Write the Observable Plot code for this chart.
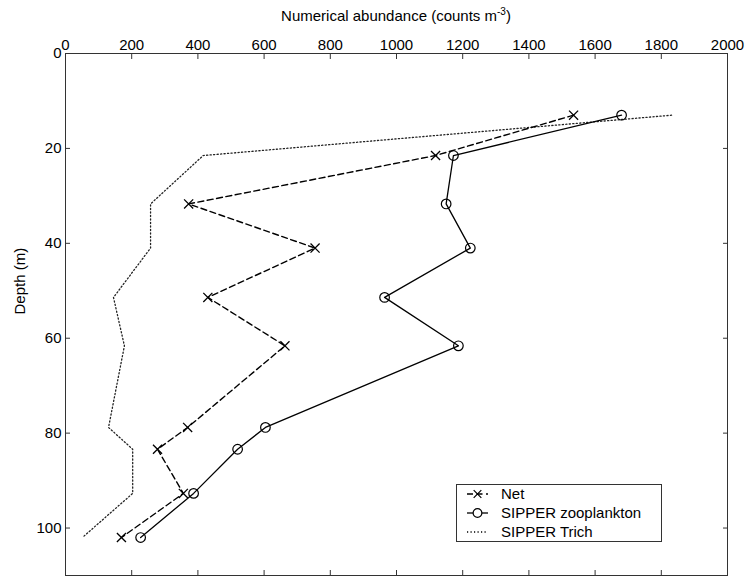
<!DOCTYPE html>
<html>
<head>
<meta charset="utf-8">
<script src="https://cdn.jsdelivr.net/npm/d3@7"></script>
<script src="https://cdn.jsdelivr.net/npm/@observablehq/plot@0.6"></script>
<style>
  html, body { margin: 0; padding: 0; background: #fff; }
  #wrap { position: relative; width: 746px; height: 576px; font-family: "Liberation Sans", Arial, Helvetica, sans-serif; }
  #legend { position: absolute; left: 456px; top: 484px; }
</style>
</head>
<body>
<div id="wrap"><div id="chart"></div><div id="legend"></div></div>
<script>
// Sampling depths (m) shared by all three profiles
const depth = [13, 21.5, 31.7, 41, 51.4, 61.6, 78.8, 83.4, 92.7, 102];
// Numerical abundance (counts m^-3)
const netCounts = [1535, 1118, 372, 754, 430, 663, 369, 278, 356, 169];
const zooCounts = [1680, 1172, 1150, 1223, 964, 1187, 604, 520, 387, 227];
const trichCounts = [1831, 416, 257, 257, 145, 178, 130, 203, 203, 51];

const xTicks = [0, 200, 400, 600, 800, 1000, 1200, 1400, 1600, 1800, 2000];
const yTicks = [0, 20, 40, 60, 80, 100];

const seriesNames = ["Net", "SIPPER zooplankton", "SIPPER Trich"];

const rows = depth.map((d, i) => ({depth: d, net: netCounts[i], zoo: zooCounts[i], trich: trichCounts[i]}));

const FONT = "\"Liberation Sans\", Arial, Helvetica, sans-serif";
const AXIS = "#333";
const plain = d => String(d);

const chart = Plot.plot({
  width: 746,
  height: 576,
  marginLeft: 65,
  marginRight: 19,
  marginTop: 53,
  marginBottom: 1,
  style: {fontFamily: FONT, fontSize: "15px", background: "#fff", color: "#000", overflow: "visible"},
  x: {domain: [0, 2000]},
  y: {domain: [0, 110], reverse: true},
  marks: [
    Plot.frame({stroke: AXIS}),
    // labelled axes (top and left) with inward ticks
    Plot.axisX(xTicks, {anchor: "top", tickSize: -5, tickPadding: 9, tickFormat: plain, label: null, stroke: AXIS, fill: "#000"}),
    Plot.axisY(yTicks, {anchor: "left", tickSize: -5, tickPadding: 9, tickFormat: plain, label: null, stroke: AXIS, fill: "#000"}),
    // mirrored tick marks on the bottom and right edges
    Plot.axisX(xTicks, {anchor: "bottom", tickSize: -5, tickFormat: () => "", label: null, stroke: AXIS}),
    Plot.axisY(yTicks, {anchor: "right", tickSize: -5, tickFormat: () => "", label: null, stroke: AXIS}),
    Plot.text(["Depth (m)"], {frameAnchor: "left", rotate: -90, dx: -45, fontSize: 15, fill: "#000"}),
    // SIPPER Trich: dotted
    Plot.line(rows, {x: "trich", y: "depth", stroke: "#222", strokeWidth: 1.3, strokeDasharray: "1.2,2.3"}),
    // Net: dashed with crosses
    Plot.line(rows, {x: "net", y: "depth", stroke: "#000", strokeWidth: 1.4, strokeDasharray: "6,3.5"}),
    Plot.dot(rows, {x: "net", y: "depth", symbol: "times", r: 4.2, stroke: "#000", strokeWidth: 1.3}),
    // SIPPER zooplankton: solid with open circles
    Plot.line(rows, {x: "zoo", y: "depth", stroke: "#000", strokeWidth: 1.3}),
    Plot.dot(rows, {x: "zoo", y: "depth", symbol: "circle", r: 4.8, stroke: "#000", fill: "none", strokeWidth: 1.2})
  ]
});
document.getElementById("chart").appendChild(chart);

// Title above the top axis, with a superscript exponent
const svg = d3.select(chart);
const xs = chart.scale("x");
const title = svg.append("text")
  .attr("x", (xs.apply(0) + xs.apply(2000)) / 2)
  .attr("y", 21)
  .attr("text-anchor", "middle")
  .attr("font-family", FONT)
  .attr("font-size", 15)
  .attr("fill", "#000");
title.append("tspan").text("Numerical abundance (counts m");
title.append("tspan").attr("font-size", 10).attr("dy", -6).text("-3");
title.append("tspan").attr("dy", 6).text(")");

// Boxed legend
const legendStyles = [
  {dash: "6,3.5", width: 1.4, symbol: d3.symbolTimes},
  {dash: null, width: 1.3, symbol: d3.symbolCircle},
  {dash: "1.2,2.3", width: 1.3, symbol: null}
];
const lw = 206, lh = 58;
const lg = d3.select("#legend").append("svg").attr("width", lw).attr("height", lh)
  .style("font-family", FONT).style("font-size", "15px");
lg.append("rect").attr("x", 0.5).attr("y", 0.5).attr("width", lw - 1).attr("height", lh - 1)
  .attr("fill", "#fff").attr("stroke", AXIS);
seriesNames.forEach((name, i) => {
  const s = legendStyles[i];
  const y = 10 + i * 19;
  const g = lg.append("g");
  g.append("line").attr("x1", 11).attr("x2", 32).attr("y1", y).attr("y2", y)
    .attr("stroke", "#000").attr("stroke-width", s.width)
    .attr("stroke-dasharray", s.dash);
  if (s.symbol) {
    g.append("path")
      .attr("d", d3.symbol(s.symbol, s.symbol === d3.symbolCircle ? 60 : 40)())
      .attr("transform", `translate(21.5,${y})`)
      .attr("fill", s.symbol === d3.symbolCircle ? "#fff" : "none")
      .attr("stroke", "#000").attr("stroke-width", 1.2);
  }
  g.append("text").attr("x", 45).attr("y", y).attr("dy", "0.35em").attr("fill", "#000").text(name);
});
</script>
</body>
</html>
